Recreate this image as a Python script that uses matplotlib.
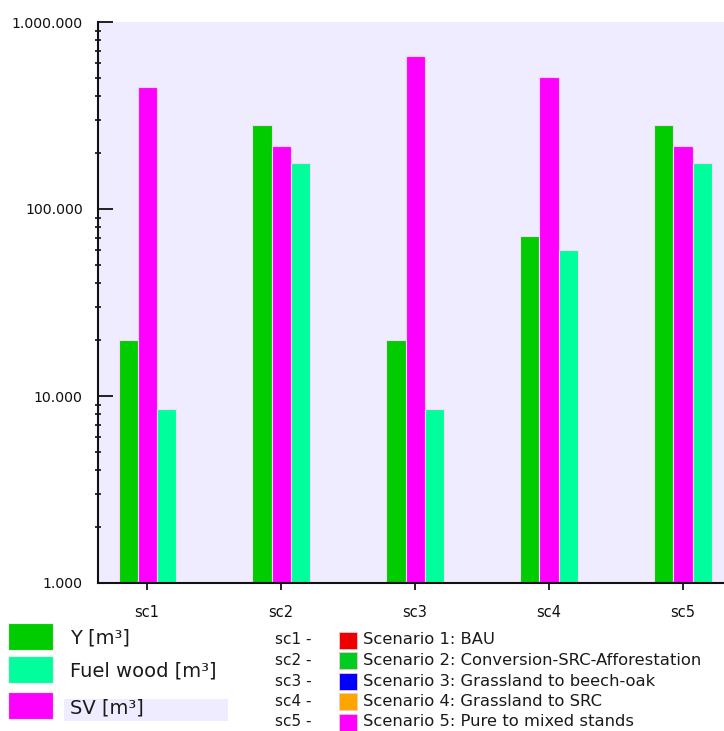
import numpy as np
import matplotlib
matplotlib.use("Agg")
import matplotlib.pyplot as plt
from matplotlib.patches import Rectangle
from matplotlib.ticker import FixedLocator, FuncFormatter, LogLocator, NullFormatter

# ---- data ----
categories = ["sc1", "sc2", "sc3", "sc4", "sc5"]
series_names = ["Y [m³]", "Fuel wood [m³]", "SV [m³]"]
y_vals = [20000, 281000, 20000, 71500, 281000]
fuelwood_vals = [8500, 176000, 8500, 60500, 176000]
sv_vals = [450000, 217000, 655000, 508000, 217000]
series_colors = ["#00CC00", "#00FF9C", "#FF00FF"]

scenario_codes = ["sc1 -", "sc2 -", "sc3 -", "sc4 -", "sc5 -"]
scenario_labels = ["Scenario 1: BAU",
                   "Scenario 2: Conversion-SRC-Afforestation",
                   "Scenario 3: Grassland to beech-oak",
                   "Scenario 4: Grassland to SRC",
                   "Scenario 5: Pure to mixed stands"]
scenario_colors = ["#EE0000", "#00CC22", "#0000FF", "#FFA500", "#FF00FF"]

yticks = [1000, 10000, 100000, 1000000]

plt.rcParams['font.family'] = ['DejaVu Sans']

W, H = 724, 731
fig = plt.figure(figsize=(W / 100, H / 100), dpi=100)
fig.patch.set_facecolor("white")

ax = fig.add_axes([98 / W, 148 / H, 626 / W, 561 / H])
ax.set_facecolor("#F0ECFF")

x = np.arange(len(categories))
bw = 0.142
order = [(y_vals, series_colors[0], -1), (sv_vals, series_colors[2], 0), (fuelwood_vals, series_colors[1], 1)]
for vals, col, off in order:
    ax.bar(x + off * bw, vals, width=bw, bottom=0.001, color=col,
           edgecolor="#F6D6F6", linewidth=0.8, zorder=2)

ax.set_yscale("log")
ax.set_ylim(1000, 1000000)
ax.set_xlim(-0.366, 4.306)

ax.yaxis.set_major_locator(FixedLocator(yticks))
ax.yaxis.set_major_formatter(FuncFormatter(lambda v, p: f"{int(round(v)):,}".replace(",", ".")))
ax.yaxis.set_minor_locator(LogLocator(base=10, subs=np.arange(2, 10)))
ax.yaxis.set_minor_formatter(NullFormatter())

ax.set_xticks(x)
ax.set_xticklabels(categories)

for s in ["top", "right"]:
    ax.spines[s].set_visible(False)
for s in ["left", "bottom"]:
    ax.spines[s].set_linewidth(1.5)
    ax.spines[s].set_color("#111111")

ax.tick_params(axis="y", which="major", direction="in", length=10.5, width=1.3,
               pad=11, labelsize=10.2, colors="#111111")
ax.tick_params(axis="y", which="minor", direction="inout", length=4.5, width=1.2, colors="#111111")
ax.tick_params(axis="x", which="major", direction="inout", length=9.5, width=1.3,
               pad=11, labelsize=10.5, colors="#111111")

# ---- legends (drawn in pixel coordinates on an overlay) ----
ov = fig.add_axes([0, 0, 1, 1])
ov.set_xlim(0, W)
ov.set_ylim(H, 0)
ov.axis("off")
ov.patch.set_alpha(0)

box_tops = [623, 656, 692]
label_y = [638, 671, 708]
for i, name in enumerate(series_names):
    ov.add_patch(Rectangle((8, box_tops[i]), 45, 27, facecolor=series_colors[i],
                           edgecolor="#F0F0F0", linewidth=0.8))
    if i == 2:
        ov.add_patch(Rectangle((64, 699), 164, 22, facecolor="#F0ECFF", edgecolor="none"))
    ov.text(70, label_y[i], name, fontsize=14, va="center", ha="left", color="#1A1A1A")

row_y = [640, 660.5, 681, 701.5, 722]
for i in range(len(scenario_codes)):
    ov.text(275, row_y[i], scenario_codes[i], fontsize=11, va="center", ha="left", color="#1A1A1A")
    ov.add_patch(Rectangle((339, row_y[i] - 8.5), 18, 17, facecolor=scenario_colors[i],
                           edgecolor="#F4C8C8", linewidth=0.6))
    ov.text(363, row_y[i], scenario_labels[i], fontsize=11.8, va="center", ha="left", color="#1A1A1A")

fig.savefig("out.png", dpi=100)
